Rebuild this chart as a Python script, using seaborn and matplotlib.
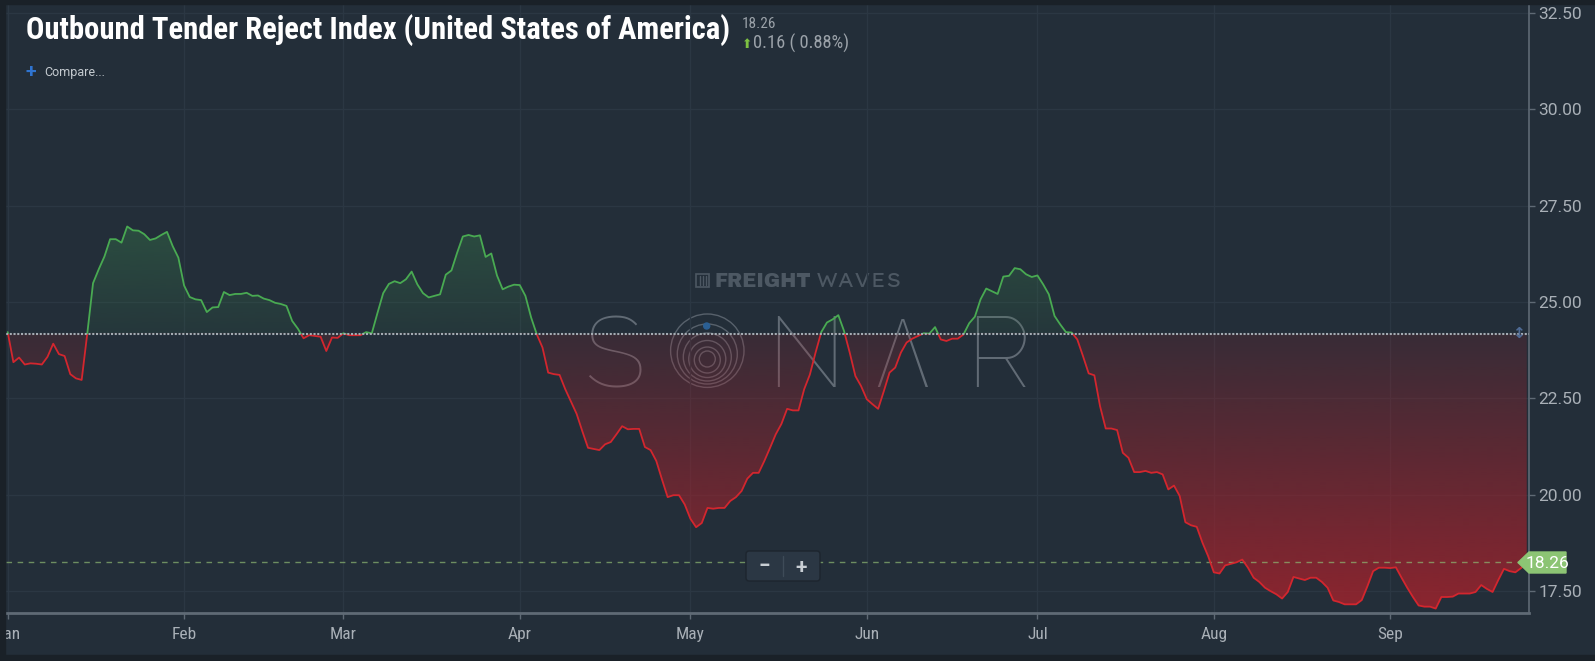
import numpy as np
import pandas as pd
import matplotlib
matplotlib.use("Agg")
import matplotlib.pyplot as plt
import matplotlib.dates as mdates
from matplotlib.path import Path
from matplotlib.patches import Rectangle, Circle, Polygon, FancyBboxPatch
import seaborn as sns

# --- data (daily index values) ---
start_date = "2018-01-01"
jan_values = [24.22, 23.44, 23.56, 23.38, 23.41, 23.40, 23.38, 23.58, 23.92, 23.65,
              23.60, 23.13, 23.02, 22.98, 24.20, 25.49, 25.85, 26.18, 26.63, 26.63,
              26.54, 26.96, 26.86, 26.85, 26.76, 26.61, 26.65, 26.74, 26.82, 26.45, 26.15]
feb_values = [25.43, 25.13, 25.07, 25.05, 24.74, 24.86, 24.87, 25.26, 25.18, 25.21,
              25.21, 25.24, 25.16, 25.17, 25.09, 25.05, 24.98, 24.95, 24.90, 24.51,
              24.31, 24.06, 24.14, 24.12, 24.10, 23.73, 24.08, 24.07]
mar_values = [24.19, 24.14, 24.14, 24.14, 24.22, 24.19, 24.72, 25.23, 25.47, 25.54,
              25.49, 25.59, 25.79, 25.46, 25.23, 25.12, 25.16, 25.20, 25.71, 25.82,
              26.28, 26.70, 26.74, 26.70, 26.73, 26.17, 26.26, 25.69, 25.33, 25.40, 25.45]
apr_values = [25.44, 25.16, 24.60, 24.16, 23.82, 23.17, 23.13, 23.11, 22.74, 22.42,
              22.10, 21.65, 21.22, 21.19, 21.16, 21.31, 21.37, 21.57, 21.78, 21.70,
              21.71, 21.71, 21.24, 21.16, 20.88, 20.40, 19.94, 19.99, 19.99, 19.75]
may_values = [19.38, 19.16, 19.27, 19.66, 19.64, 19.66, 19.66, 19.84, 19.94, 20.10,
              20.42, 20.57, 20.57, 20.88, 21.22, 21.57, 21.84, 22.23, 22.19, 22.19,
              22.74, 23.12, 23.69, 24.22, 24.47, 24.55, 24.66, 24.25, 23.69, 23.08, 22.82]
jun_values = [22.48, 22.35, 22.23, 22.69, 23.17, 23.30, 23.69, 23.95, 24.05, 24.12,
              24.19, 24.18, 24.35, 24.03, 23.99, 24.05, 24.05, 24.16, 24.45, 24.62,
              25.07, 25.35, 25.28, 25.21, 25.66, 25.68, 25.88, 25.85, 25.72, 25.65]
jul_values = [25.69, 25.46, 25.20, 24.64, 24.42, 24.22, 24.21, 24.03, 23.60, 23.15,
              23.10, 22.30, 21.72, 21.72, 21.68, 21.09, 20.96, 20.59, 20.59, 20.62,
              20.57, 20.59, 20.53, 20.14, 20.24, 19.97, 19.29, 19.21, 19.17, 18.76, 18.41]
aug_values = [17.99, 17.96, 18.17, 18.21, 18.25, 18.32, 18.11, 17.85, 17.74, 17.59,
              17.50, 17.42, 17.31, 17.48, 17.87, 17.83, 17.79, 17.85, 17.85, 17.74,
              17.59, 17.26, 17.22, 17.16, 17.16, 17.16, 17.27, 17.63, 18.02, 18.11, 18.11]
sep_values = [18.10, 18.12, 17.85, 17.59, 17.35, 17.13, 17.10, 17.10, 17.05, 17.35,
              17.35, 17.36, 17.44, 17.44, 17.44, 17.48, 17.66, 17.56, 17.48, 17.79,
              18.08, 18.02, 17.99, 18.10, 18.26]

reference_level = 24.18
last_value = 18.26
last_change = 0.16
last_change_pct = 0.88
y_ticks = [17.5, 20.0, 22.5, 25.0, 27.5, 30.0, 32.5]
month_labels = ["Jan", "Feb", "Mar", "Apr", "May", "Jun", "Jul", "Aug", "Sep"]
title = "Outbound Tender Reject Index (United States of America)"

# --- style ---
BG = "#232e39"
FRAME = "#1a2128"
GRID = "#2b3743"
AXIS = "#5f6a75"
TICK_TXT = "#a9b0b7"
GREEN = "#49aa52"
RED = "#d3262e"
COND = ["Roboto Condensed", "DejaVu Sans"]

sns.set_style("dark")
plt.rcParams["font.family"] = ["Roboto", "DejaVu Sans"]

otri = jan_values + feb_values + mar_values + apr_values + may_values + \
    jun_values + jul_values + aug_values + sep_values
dates = pd.date_range(start_date, periods=len(otri), freq="D")
df = pd.DataFrame({"date": dates, "otri": otri})
xnum = mdates.date2num(dates)
vals = np.array(otri)

W, H = 1595, 661
fig = plt.figure(figsize=(W / 100, H / 100), dpi=100, facecolor=BG)

# watermark layer (below the data), in pixel coordinates
wm = fig.add_axes([0, 0, 1, 1], zorder=0)
wm.set_xlim(0, W)
wm.set_ylim(H, 0)
wm.axis("off")
wm.patch.set_alpha(0)

ax = fig.add_axes([6 / W, 1 - 613 / H, (1529 - 6) / W, (613 - 4) / H], zorder=1)
ax.patch.set_alpha(0)
ylo, yhi = 16.935, 32.73
x_left = xnum[0] - 0.3
x_right = xnum[0] + 267.4

# gradient fills clipped to the area between curve and reference line
band = ax.fill_between(xnum, vals, reference_level, facecolor="none", edgecolor="none")
clip = Path.make_compound_path(*band.get_paths())

n = 256
red_img = np.zeros((n, 1, 4))
red_img[..., 0], red_img[..., 1], red_img[..., 2] = 160 / 255, 35 / 255, 45 / 255
red_img[:, 0, 3] = np.linspace(0.85, 0.17, n)
im_r = ax.imshow(red_img, extent=[x_left, x_right, ylo, reference_level],
                 origin="lower", aspect="auto", zorder=1, interpolation="bilinear")
im_r.set_clip_path(clip, transform=ax.transData)

green_img = np.zeros((n, 1, 4))
green_img[..., 0], green_img[..., 1], green_img[..., 2] = 55 / 255, 120 / 255, 75 / 255
green_img[:, 0, 3] = np.linspace(0.12, 0.45, n)
im_g = ax.imshow(green_img, extent=[x_left, x_right, reference_level, 27.2],
                 origin="lower", aspect="auto", zorder=1, interpolation="bilinear")
im_g.set_clip_path(clip, transform=ax.transData)

# the line: red below the reference, green above
sns.lineplot(data=df, x="date", y="otri", ax=ax, color=RED, linewidth=1.3, zorder=3)
ax.lines[-1].set_clip_path(Rectangle((x_left - 5, ylo - 5), 400, reference_level - ylo + 5,
                                     transform=ax.transData))
sns.lineplot(data=df, x="date", y="otri", ax=ax, color=GREEN, linewidth=1.3, zorder=3)
ax.lines[-1].set_clip_path(Rectangle((x_left - 5, reference_level), 400, 20,
                                     transform=ax.transData))

ax.axhline(reference_level, color="#a4acb3", lw=1.5, dashes=(1, 0.8), zorder=4)
ax.axhline(last_value, color="#8db873", alpha=0.7, lw=1.0, dashes=(4, 4), zorder=2)

ax.set_xlim(x_left, x_right)
ax.set_ylim(ylo, yhi)
ax.set_xlabel("")
ax.set_ylabel("")

month_starts = pd.date_range(start_date, periods=len(month_labels), freq="MS")
ax.set_xticks(mdates.date2num(month_starts))
ax.set_xticklabels(month_labels, family=COND)
ax.set_yticks(y_ticks)
ax.set_yticklabels([f"{v:.2f}" for v in y_ticks])
ax.yaxis.tick_right()
ax.grid(True, color=GRID, lw=1, zorder=0)
ax.tick_params(axis="x", colors=AXIS, labelcolor=TICK_TXT, length=4, width=1, pad=6,
               labelsize=12.5, direction="out", bottom=True)
ax.tick_params(axis="y", colors=AXIS, labelcolor=TICK_TXT, length=4, width=1, pad=3,
               labelsize=12.5, direction="out", right=True, left=False)
for side in ["top", "left"]:
    ax.spines[side].set_visible(False)
ax.spines["right"].set_color(AXIS)
ax.spines["right"].set_linewidth(1.2)
ax.spines["bottom"].set_color(AXIS)
ax.spines["bottom"].set_linewidth(2)

# SONAR watermark
wm_col = (0.55, 0.58, 0.62)
for letter, cx, fam in [("S", 614, ["Raleway"]), ("N", 806, ["Raleway"]),
                        ("\u039b", 902, ["Fira Sans", "IBM Plex Sans", "Roboto"]),
                        ("R", 998, ["Raleway"])]:
    wm.text(cx, 387, letter, ha="center", va="baseline", fontsize=72, color=wm_col,
            alpha=0.6, family=fam + ["DejaVu Sans"], fontweight=100)
for r, cy in [(36.7, 350.7), (30, 354), (24, 357), (18.5, 359), (13, 360), (8, 359)]:
    wm.add_patch(Circle((707.3, cy), r, fill=False, ec=wm_col, lw=1.0, alpha=0.5))
wm.add_patch(Circle((706.7, 326), 3, color="#2b5f93"))
wm.text(715, 287, "FREIGHT", fontsize=14, fontweight="heavy", color="#4d5863",
        family=["Archivo Black", "DejaVu Sans"], va="baseline")
wm.text(816, 287, "WAVES", fontsize=14, fontweight=300, color="#4d5863",
        family=["Lexend Giga", "Montserrat", "Raleway", "DejaVu Sans"], va="baseline")
wm.add_patch(Rectangle((696, 274), 13, 13, fill=False, ec="#4d5863", lw=1.2))
for bx in [700, 703, 706]:
    wm.plot([bx, bx], [276, 285], color="#4d5863", lw=1)

# overlay layer: title, labels, controls, frame
ov = fig.add_axes([0, 0, 1, 1], zorder=5)
ov.set_xlim(0, W)
ov.set_ylim(H, 0)
ov.axis("off")
ov.patch.set_alpha(0)

ov.text(26.5, 39, title, fontsize=22.1, fontweight="bold", color="white",
        family=COND, va="baseline")
ov.text(741.5, 27.5, f"{last_value:.2f}", fontsize=11, color="#9ba2a9", va="baseline",
        family=COND)
ov.text(742, 48, "\u2b06", fontsize=9, color="#7dc142", va="baseline", family=["DejaVu Sans"])
ov.text(753, 48.5, f"{last_change:.2f} ( {last_change_pct:.2f}%)", fontsize=13.3,
        color="#9ba2a9", va="baseline", family=COND)
ov.text(26, 77, "+", fontsize=14, fontweight="bold", color="#2f74d0", va="baseline")
ov.text(44, 76, "Compare...", fontsize=9, color="#c5cbd0", va="baseline")

# last value tag
ov.add_patch(Polygon([(1518, 562.5), (1529, 552), (1566, 552), (1566, 573), (1529, 573)],
                     closed=True, color="#8cc474"))
ov.text(1547, 563, f"{last_value:.2f}", fontsize=12.5, color="white", ha="center", va="center")
ov.text(1518, 333.5, "\u2195", fontsize=11, color="#4f6b95", ha="center", va="center",
        family=["DejaVu Sans"], fontweight="bold")

# zoom control
ov.add_patch(FancyBboxPatch((746, 551), 74, 30, boxstyle="round,pad=0,rounding_size=3",
                            fc="#2b3744", ec="#1d252e", lw=1))
ov.plot([783, 783], [556, 576], color="#3e4b58", lw=1)
ov.text(764, 567, "\u2212", fontsize=15, fontweight="bold", color="#c8ced4", ha="center", va="center")
ov.text(801, 567, "+", fontsize=15, fontweight="bold", color="#c8ced4", ha="center", va="center")

# dark frame around the panel
ov.add_patch(Rectangle((0, 0), W, 4, color=FRAME))
ov.add_patch(Rectangle((0, 0), 5, H, color=FRAME))
ov.add_patch(Rectangle((0, 655), W, 6, color=FRAME))

fig.savefig("out.png", dpi=100, facecolor=BG)
